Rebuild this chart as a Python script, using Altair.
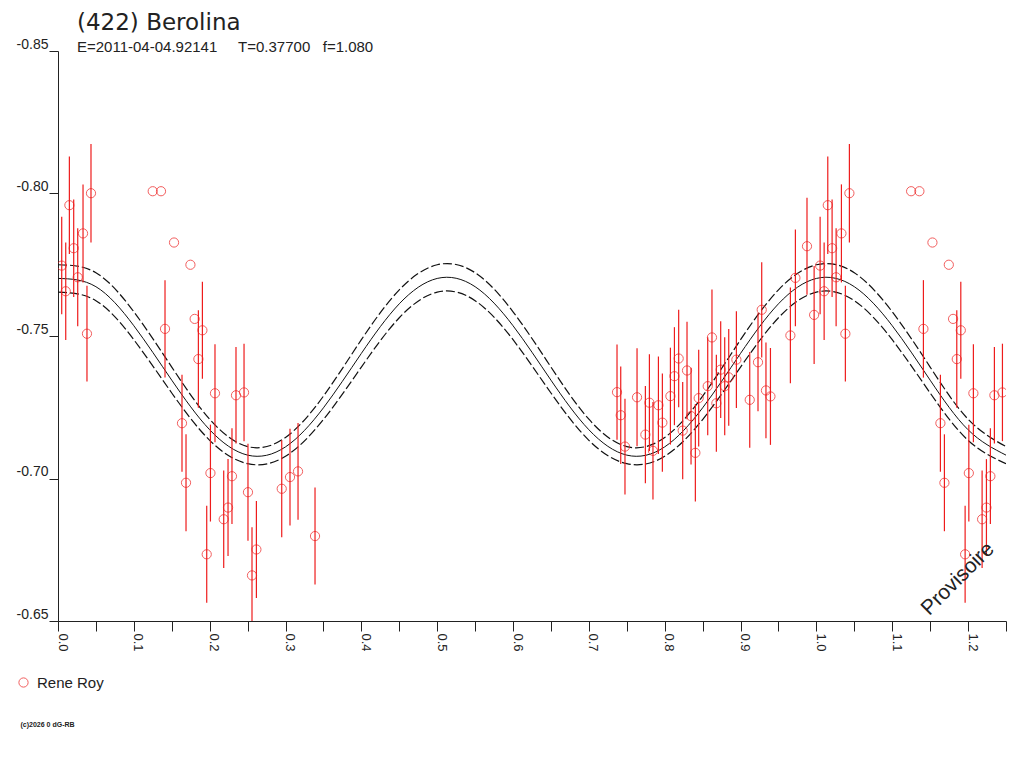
import altair as alt
import pandas as pd

# ---- observations (phase, reduced magnitude, error) ----
PHASE = [0.0049, 0.0102, 0.0150, 0.0207, 0.0260, 0.0330, 0.0382, 0.0435,
         0.1249, 0.1358, 0.1411, 0.1530, 0.1635, 0.1688, 0.1746, 0.1802,
         0.1851, 0.1904, 0.1961, 0.2010, 0.2070, 0.2185, 0.2242, 0.2294,
         0.2347, 0.2453, 0.2505, 0.2558, 0.2616, 0.2950, 0.3059, 0.3165,
         0.3389,
         0.7371, 0.7420, 0.7476, 0.7635, 0.7745, 0.7798, 0.7845, 0.7917,
         0.7969, 0.8075, 0.8128, 0.8184, 0.8237, 0.8294, 0.8347, 0.8404,
         0.8448, 0.8567, 0.8623, 0.8681, 0.8738, 0.8791, 0.8844, 0.8945,
         0.9121, 0.9230, 0.9279, 0.9335, 0.9394, 0.9657, 0.9723, 0.9876,
         0.9970]
MAG = [-0.7747, -0.7657, -0.7959, -0.7808, -0.7706, -0.7860, -0.7508, -0.8001,
       -0.8008, -0.8008, -0.7525, -0.7828, -0.7194, -0.6985, -0.7750, -0.7560,
       -0.7419, -0.7520, -0.6734, -0.7019, -0.7299, -0.6857, -0.6898, -0.7008,
       -0.7292, -0.7302, -0.6952, -0.6660, -0.6751, -0.6964, -0.7005, -0.7025,
       -0.6798,
       -0.7303, -0.7222, -0.7112, -0.7285, -0.7154, -0.7266, -0.7097, -0.7257,
       -0.7196, -0.7289, -0.7359, -0.7421, -0.7168, -0.7379, -0.7219, -0.7090,
       -0.7282, -0.7324, -0.7495, -0.7264, -0.7382, -0.7324, -0.7355, -0.7417,
       -0.7276, -0.7408, -0.7592, -0.7309, -0.7288, -0.7502, -0.7704, -0.7815,
       -0.7574]
ERR = [0.0171, 0.0171, 0.0171, 0.0171, 0.0172, 0.0172, 0.0168, 0.0173,
       0.0, 0.0, 0.0171, 0.0, 0.0170, 0.0170, 0.0, 0.0,
       0.0171, 0.0170, 0.0170, 0.0170, 0.0172, 0.0171, 0.0170, 0.0168,
       0.0169, 0.0171, 0.0170, 0.0169, 0.0170, 0.0170, 0.0170, 0.0170,
       0.0170,
       0.0167, 0.0171, 0.0168, 0.0172, 0.0171, 0.0170, 0.0171, 0.0171,
       0.0172, 0.0170, 0.0172, 0.0171, 0.0171, 0.0171, 0.0170, 0.0171,
       0.0170, 0.0172, 0.0168, 0.0170, 0.0170, 0.0172, 0.0170, 0.0170,
       0.0168, 0.0172, 0.0167, 0.0168, 0.0170, 0.0168, 0.0170, 0.0170,
       0.0172]
OBSERVER = "Rene Roy"

# ---- fitted lightcurve, every 0.05 in phase ----
CURVE_PHASE = [0.00, 0.05, 0.10, 0.15, 0.20, 0.25, 0.30, 0.35, 0.40, 0.45,
               0.50, 0.55, 0.60, 0.65, 0.70, 0.75, 0.80, 0.85, 0.90, 0.95,
               1.00, 1.05, 1.10, 1.15, 1.20, 1.25]
CURVE_MID = [-0.7702, -0.7673, -0.7536, -0.7345, -0.7171, -0.7082, -0.7111, -0.7248, -0.7439, -0.7613,
             -0.7702, -0.7673, -0.7536, -0.7345, -0.7171, -0.7082, -0.7111, -0.7248, -0.7439, -0.7613,
             -0.7702, -0.7673, -0.7536, -0.7345, -0.7171, -0.7082]
CURVE_UPPER = [-0.7750, -0.7722, -0.7585, -0.7391, -0.7208, -0.7112, -0.7144, -0.7289, -0.7487, -0.7662,
               -0.7750, -0.7722, -0.7585, -0.7391, -0.7208, -0.7112, -0.7144, -0.7289, -0.7487, -0.7662,
               -0.7750, -0.7722, -0.7585, -0.7391, -0.7208, -0.7112]
CURVE_LOWER = [-0.7654, -0.7624, -0.7487, -0.7300, -0.7134, -0.7052, -0.7078, -0.7207, -0.7391, -0.7564,
               -0.7654, -0.7624, -0.7487, -0.7300, -0.7134, -0.7052, -0.7078, -0.7207, -0.7391, -0.7564,
               -0.7654, -0.7624, -0.7487, -0.7300, -0.7134, -0.7052]

NB = "\u00a0"
TITLE = "(422) Berolina"
SUBTITLE = "E=2011-04-04.92141" + NB * 5 + "T=0.37700" + NB * 3 + "f=1.080"
X_TICKS = [0.0, 0.05, 0.1, 0.15, 0.2, 0.25, 0.3, 0.35, 0.4, 0.45, 0.5, 0.55, 0.6,
           0.65, 0.7, 0.75, 0.8, 0.85, 0.9, 0.95, 1.0, 1.05, 1.1, 1.15, 1.2, 1.25]
Y_TICKS = [-0.85, -0.80, -0.75, -0.70, -0.65]
COPYRIGHT = "(c)2026 0 dG-RB"
STAMP = "Provisoire"

FONT = "Liberation Sans"
TITLE_FONT = "DejaVu Sans"
INK = "#222222"
RED = "#ee1c1c"

pts = pd.DataFrame({"phase": PHASE, "mag": MAG, "err": ERR, "observer": OBSERVER})
dup = pts[pts["phase"] + 1.0 <= 1.25].copy()
dup["phase"] = dup["phase"] + 1.0
allpts = pd.concat([pts, dup], ignore_index=True)
allpts["lo"] = allpts["mag"] - allpts["err"]
allpts["hi"] = allpts["mag"] + allpts["err"]

curve = pd.concat([
    pd.DataFrame({"phase": CURVE_PHASE, "mag": CURVE_MID, "band": "mid"}),
    pd.DataFrame({"phase": CURVE_PHASE, "mag": CURVE_UPPER, "band": "upper"}),
    pd.DataFrame({"phase": CURVE_PHASE, "mag": CURVE_LOWER, "band": "lower"}),
], ignore_index=True)

xscale = alt.Scale(domain=[0, 1.25], nice=False, zero=False)
yscale = alt.Scale(domain=[-0.85, -0.65], reverse=True, nice=False, zero=False)

xaxis = alt.Axis(values=X_TICKS,
                 labelExpr="abs(datum.value*10 - round(datum.value*10)) < 0.01 ? format(datum.value, '.1f') : ''",
                 labelAngle=90, labelAlign="left", labelBaseline="alphabetic",
                 labelFontSize=13, labelFont=FONT, labelColor=INK, labelPadding=2,
                 labelOverlap=False, labelFlush=False,
                 tickSize=10, tickColor=INK, domainColor=INK, grid=False,
                 title=COPYRIGHT, titleFontSize=7, titleFontWeight="bold",
                 titleFont=FONT, titleColor=INK, titleX=-38, titleY=103,
                 titleAlign="left", titleBaseline="middle")
yaxis = alt.Axis(values=Y_TICKS,
                 labelExpr="replace(format(datum.value, '.2f'), '\u2212', '-')",
                 labelFontSize=14, labelFont=FONT,
                 labelColor=INK, labelBaseline="alphabetic", labelOffset=-3,
                 labelPadding=1, tickSize=9, tickColor=INK, domainColor=INK,
                 grid=False, title="")

X = alt.X("phase:Q", scale=xscale, axis=xaxis)
Y = alt.Y("mag:Q", scale=yscale, axis=yaxis)
YLO = alt.Y("lo:Q", scale=yscale, axis=yaxis)

mid = alt.Chart(curve).transform_filter("datum.band == 'mid'").mark_line(
    color="#111111", strokeWidth=1, interpolate="natural", clip=True
).encode(x=X, y=Y)

env = alt.Chart(curve).transform_filter("datum.band != 'mid'").mark_line(
    color="#111111", strokeWidth=1.2, interpolate="natural", strokeDash=[9, 3], clip=True
).encode(x=X, y=Y, detail="band:N")

bars = alt.Chart(allpts).transform_filter("datum.err > 0").mark_rule(
    color=RED, strokeWidth=1.2, clip=True
).encode(x=X, y=YLO, y2="hi:Q")

points = alt.Chart(allpts).mark_point(
    shape="circle", filled=False, size=85, strokeWidth=1, clip=True
).encode(
    x=X, y=Y,
    color=alt.Color("observer:N",
                    scale=alt.Scale(domain=[OBSERVER], range=[RED]),
                    legend=alt.Legend(title="", orient="none", legendX=-42, legendY=624,
                                      labelFontSize=15, labelFont=FONT, labelColor=INK,
                                      symbolSize=85, symbolStrokeWidth=1,
                                      symbolType="circle", labelOffset=6))
)

stamp = alt.Chart(pd.DataFrame({"t": [STAMP]})).mark_text(
    angle=315, fontSize=21, font=FONT, color=INK, align="center", baseline="middle"
).encode(x=alt.value(900), y=alt.value(528), text="t:N")

chart = alt.layer(mid, env, bars, points, stamp).properties(
    width=948, height=570,
    padding={"left": 50, "top": 43, "right": 10, "bottom": 130},
    autosize=alt.AutoSizeParams(type="none"),
    view=alt.ViewBackground(stroke="transparent", strokeWidth=0, strokeOpacity=0),
    title=alt.TitleParams(text=TITLE, subtitle=SUBTITLE, anchor="start", frame="group",
                          dx=19, offset=-18, fontSize=23, fontWeight="normal", font=TITLE_FONT,
                          color=INK, subtitleFontSize=15, subtitleFont=FONT,
                          subtitleColor=INK, subtitlePadding=5)
).configure_view(strokeWidth=0, stroke="transparent", strokeOpacity=0).configure(background="white")

chart.save("out.html", embed_options={"renderer": "svg", "actions": False})
